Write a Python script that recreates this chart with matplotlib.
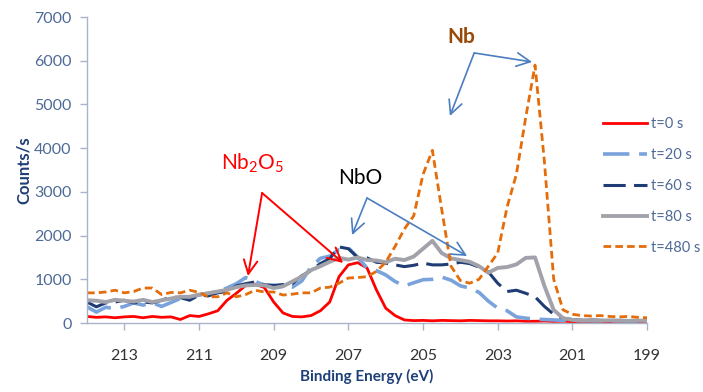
import numpy as np
import matplotlib
matplotlib.use("Agg")
import matplotlib.pyplot as plt

plt.rcParams["font.family"] = ["Lato", "DejaVu Sans"]
plt.rcParams["mathtext.fontset"] = "custom"
plt.rcParams["mathtext.rm"] = "Lato"
plt.rcParams["mathtext.it"] = "Lato:italic"
plt.rcParams["lines.scale_dashes"] = False

# binding energy grid (eV), 214 -> 199 in 0.25 steps
energy = np.arange(214, 198.99, -0.25)

t0 = [150, 130, 140, 120,  140, 150, 120, 150,  130, 140, 80, 170,
      150, 210, 280, 520,  680, 860, 890, 810,  480, 230, 150, 140,
      170, 280, 480, 1060,  1330, 1380, 1260, 760,  340, 170, 70, 55,
      60, 50, 60, 55,  50, 60, 55, 50,  50, 45, 50, 40,
      40, 45, 35, 40,  30, 35, 30, 25,  30, 25, 20, 25,  20]
t20 = [370, 250, 360, 330,  380, 460, 410, 460,  380, 470, 560, 590,
       640, 680, 720, 800,  900, 1040, 950, 870,  860, 830, 820, 960,
       1280, 1480, 1530, 1680,  1720, 1500, 1260, 1200,  1100, 950, 850, 920,
       990, 1000, 1050, 980,  850, 800, 700, 500,  340, 280, 140, 110,
       90, 80, 70, 60,  55, 60, 50, 55,  50, 55, 45, 50,  45]
t60 = [480, 370, 460, 480,  520, 460, 480, 460,  520, 600, 580, 520,
       640, 620, 690, 720,  850, 900, 940, 870,  860, 880, 900, 1080,
       1200, 1360, 1470, 1740,  1700, 1500, 1490, 1390,  1370, 1330, 1290, 1320,
       1370, 1330, 1330, 1350,  1390, 1360, 1280, 1170,  910, 720, 750, 680,
       600, 380, 200, 110,  80, 60, 70, 60,  55, 60, 50, 55,  50]
t80 = [520, 510, 480, 530,  510, 490, 530, 480,  520, 560, 600, 600,
       650, 680, 720, 760,  820, 860, 870, 860,  800, 840, 950, 1060,
       1210, 1300, 1400, 1490,  1450, 1500, 1440, 1430,  1390, 1470, 1440, 1520,
       1700, 1880, 1600, 1480,  1440, 1400, 1300, 1150,  1260, 1280, 1340, 1490,
       1500, 850, 300, 110,  70, 60, 65, 55,  60, 55, 50, 55,  50]
t480 = [690, 690, 710, 750,  690, 720, 800, 800,  650, 700, 690, 750,
        700, 600, 600, 690,  600, 650, 750, 710,  710, 640, 660, 690,
        690, 800, 820, 910,  1030, 1040, 1060, 1180,  1390, 1750, 2150, 2450,
        3400, 3950, 2600, 1300,  970, 910, 1000, 1300,  1600, 2650, 3400, 4700,
        5900, 3700, 1000, 300,  200, 170, 160, 170,  150, 140, 150, 130,  120]

labels = ["t=0 s", "t=20 s", "t=60 s", "t=80 s", "t=480 s"]
xticks = [213, 211, 209, 207, 205, 203, 201, 199]

fig = plt.figure(figsize=(7.03, 3.92), dpi=100)
ax = fig.add_axes([0.1238, 0.176, 0.7966, 0.7806])

ax.plot(energy, t0, color="#FF0000", lw=2.0, solid_joinstyle="round", label=labels[0])
ax.plot(energy, t20, color="#7AA3DC", lw=2.6, dashes=(19, 7), label=labels[1])
ax.plot(energy, t60, color="#1F3C74", lw=2.2, dashes=(16, 6), label=labels[2])
ax.plot(energy, t80, color="#A2A2AA", lw=2.8, solid_joinstyle="round", label=labels[3])
ax.plot(energy, t480, color="#E46C0A", lw=2.0, dashes=(5.5, 3), label=labels[4])

ax.set_xlim(214, 199)
ax.set_ylim(0, 7000)
ax.set_xticks(xticks)
ax.set_yticks(range(0, 7001, 1000))

for s in ["top", "right"]:
    ax.spines[s].set_visible(False)
for s in ["left", "bottom"]:
    ax.spines[s].set_color("#A9B4CA")
    ax.spines[s].set_linewidth(1.0)
ax.tick_params(axis="y", direction="out", length=5, width=1, color="#A9B4CA",
               labelsize=11.5, labelcolor="#4E6A97", pad=6)
ax.tick_params(axis="x", direction="out", length=5, width=1, color="#A9B4CA",
               labelsize=11.5, labelcolor="#333333", pad=14)

ax.set_ylabel("Counts/s", fontsize=12, fontweight="bold", color="#1F3F77", labelpad=2)
ax.set_xlabel("Binding Energy (eV)", fontsize=11, fontweight="bold", color="#1F3F77", labelpad=4)

leg = fig.legend(loc="center left", bbox_to_anchor=(603 / 703, 1 - 186 / 392),
                 frameon=False, fontsize=10.5, handlelength=3.0, handletextpad=0.3,
                 labelspacing=1.15, borderpad=0, borderaxespad=0)
for txt in leg.get_texts():
    txt.set_color("#4E6A97")

# peak annotations
arrow_blue = "#4A7EC0"
ax.text(209.55, 3661, r"Nb$_\mathrm{2}$O$_\mathrm{5}$", color="#FF0000", fontsize=15,
        ha="center", va="center")
ax.text(206.69, 3318, "NbO", color="black", fontsize=15, ha="center", va="center")
ax.text(203.98, 6544, "Nb", color="#984807", fontsize=15, fontweight="bold",
        ha="center", va="center")

def arrow(start, end, color, lw=1.2):
    ax.annotate("", xy=end, xytext=start,
                arrowprops=dict(arrowstyle="->,head_length=0.7,head_width=0.35",
                                color=color, lw=lw, shrinkA=0, shrinkB=0,
                                mutation_scale=14))

arrow((209.31, 2974), (209.69, 1075), "#FF0000", 1.4)
arrow((209.31, 2974), (207.14, 1373), "#FF0000", 1.4)
arrow((206.5, 2860), (206.9, 2013), arrow_blue)
arrow((206.5, 2860), (203.82, 1533), arrow_blue)
arrow((203.63, 6178), (202.08, 5972), arrow_blue)
arrow((203.63, 6178), (204.28, 4736), arrow_blue)

fig.savefig("out.png", dpi=100)
